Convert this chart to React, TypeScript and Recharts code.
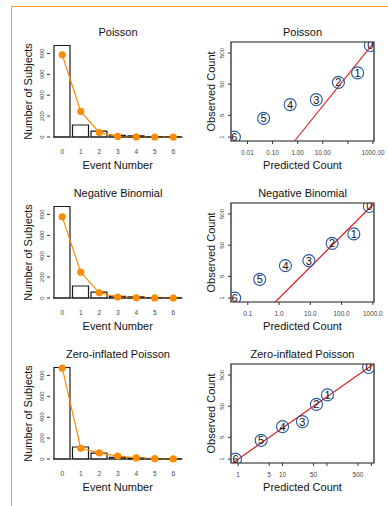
import React from 'react';
import {
  ComposedChart,
  Bar,
  Line,
  XAxis,
  YAxis,
  ScatterChart,
  Scatter,
  ReferenceLine,
  ReferenceArea,
  Label,
} from 'recharts';

const FONT = '"Liberation Sans", Arial, Helvetica, sans-serif';

// ---- data ----
const events = ['0', '1', '2', '3', '4', '5', '6'];
const observed = [876, 115, 57, 16, 11, 4, 1];
const predPoisson = [787, 245, 42, 5.5, 0.5, 0.044, 0.003];
const predNegBin = [777, 247, 50, 9, 1.6, 0.24, 0.038];
const predZip = [870, 103, 58, 28, 10, 3.3, 0.87];

const countTicks = [0, 200, 400, 600, 800];
const obsTicks = [1, 5, 50, 500];
const obsLabels = ['1', '5', '50', '500'];

const poissonXTicks = [0.01, 0.1, 1, 10, 100, 1000];
const poissonXLabels = ['0.01', '0.10', '1.00', '10.00', '', '1000.00'];
const negBinXTicks = [0.1, 1, 10, 100, 1000];
const negBinXLabels = ['0.1', '1.0', '10.0', '100.0', '1000.0'];
const zipXTicks = [1, 5, 10, 50, 100, 500, 1000];
const zipXLabels = ['1', '5', '10', '50', '', '500', ''];

const poissonXDomain = [0.0022, 1100];
const negBinXDomain = [0.029, 1090];
const zipXDomain = [0.69, 1150];
const obsDomain = [0.75, 1130];

const ORANGE = '#FF8C00';
const BLUE = '#2857a4';
const RED = '#e01c1c';
const INK = '#1a1a1a';

const titleStyle = (left: number, width: number, top: number): React.CSSProperties => ({
  position: 'absolute',
  left,
  width,
  top,
  textAlign: 'center',
  fontFamily: FONT,
  fontSize: 11,
  lineHeight: '13px',
  color: '#111',
});

function BarPanel({ top, title, predicted }: { top: number; title: string; predicted: number[] }) {
  const data = events.map((k, i) => ({ k, observed: observed[i], predicted: predicted[i] }));
  return (
    <div style={{ position: 'absolute', left: 0, top, width: 194, height: 170 }}>
      <div style={titleStyle(53, 130, 25.5)}>{title}</div>
      <ComposedChart
        width={194}
        height={170}
        data={data}
        margin={{ top: 43, right: 11.5, bottom: 0, left: 0 }}
      >
        <XAxis
          dataKey="k"
          height={33}
          interval={0}
          tickSize={0}
          tickMargin={0}
          tickLine={false}
          axisLine={{ stroke: INK, strokeWidth: 1.2 }}
          tick={(p: any) => (
            <text
              x={p.x}
              y={p.y + 14.7}
              dy="0.35em"
              textAnchor="middle"
              fontSize={6.5}
              fill="#444"
              fontFamily={FONT}
            >
              {p.payload.value}
            </text>
          )}
        >
          <Label
            content={(p: any) => {
              const vb = p.viewBox;
              return (
                <text
                  x={vb.x + vb.width / 2}
                  y={vb.y + 28}
                  dy="0.35em"
                  textAnchor="middle"
                  fontSize={11}
                  fill="#111"
                  fontFamily={FONT}
                >
                  Event Number
                </text>
              );
            }}
          />
        </XAxis>
        <YAxis
          width={53}
          type="number"
          domain={[0, 900]}
          ticks={countTicks}
          interval={0}
          tickSize={0}
          tickMargin={0}
          axisLine={false}
          tickLine={false}
          tick={(p: any) => (
            <g>
              <line x1={p.x - 6} x2={p.x - 3} y1={p.y} y2={p.y} stroke="#333" strokeWidth={1} />
              <text
                x={p.x - 11}
                y={p.y}
                dy="0.35em"
                textAnchor="middle"
                fontSize={6}
                fill="#444"
                fontFamily={FONT}
                transform={`rotate(-90, ${p.x - 11}, ${p.y})`}
              >
                {p.payload.value}
              </text>
            </g>
          )}
        >
          <Label
            content={(p: any) => {
              const vb = p.viewBox;
              const cx = vb.x + 28;
              const cy = vb.y + vb.height / 2 + 1.5;
              return (
                <text
                  x={cx}
                  y={cy}
                  dy="0.35em"
                  textAnchor="middle"
                  fontSize={11}
                  fill="#111"
                  fontFamily={FONT}
                  transform={`rotate(-90, ${cx}, ${cy})`}
                >
                  Number of Subjects
                </text>
              );
            }}
          />
        </YAxis>
        <Bar
          dataKey="observed"
          fill="#ffffff"
          stroke={INK}
          strokeWidth={1.2}
          barSize={16}
          isAnimationActive={false}
        />
        <Line
          dataKey="predicted"
          type="linear"
          stroke={ORANGE}
          strokeWidth={1.2}
          dot={{ r: 3.6, fill: ORANGE, stroke: ORANGE, strokeWidth: 0 }}
          activeDot={false}
          isAnimationActive={false}
        />
      </ComposedChart>
    </div>
  );
}

const CircleNum = (p: any) => (
  <g>
    <circle cx={p.cx} cy={p.cy} r={6} fill="none" stroke={BLUE} strokeWidth={1.1} />
    <text
      x={p.cx}
      y={p.cy}
      dy="0.36em"
      textAnchor="middle"
      fontSize={11}
      fill="#111"
      fontFamily={FONT}
    >
      {p.payload.k}
    </text>
  </g>
);

function ScatterPanel({
  top,
  title,
  predicted,
  xDomain,
  xTicks,
  xLabels,
}: {
  top: number;
  title: string;
  predicted: number[];
  xDomain: number[];
  xTicks: number[];
  xLabels: string[];
}) {
  const data = events.map((k, i) => ({ k, x: predicted[i], y: observed[i] }));
  const lo = Math.max(xDomain[0], obsDomain[0]);
  const hi = Math.min(xDomain[1], obsDomain[1]);
  return (
    <div style={{ position: 'absolute', left: 194, top, width: 194, height: 170 }}>
      <div style={titleStyle(37, 143, 25.5)}>{title}</div>
      <ScatterChart width={194} height={170} margin={{ top: 42, right: 14, bottom: 0, left: 0 }}>
        <XAxis
          type="number"
          dataKey="x"
          scale="log"
          domain={xDomain}
          allowDataOverflow
          ticks={xTicks}
          interval={0}
          height={29}
          tickSize={0}
          tickMargin={0}
          axisLine={false}
          tickLine={false}
          tick={(p: any) => (
            <g>
              <line x1={p.x} x2={p.x} y1={p.y} y2={p.y + 3} stroke="#333" strokeWidth={1} />
              <text
                x={p.x}
                y={p.y + 11.7}
                dy="0.35em"
                textAnchor="middle"
                fontSize={6.4}
                fill="#444"
                fontFamily={FONT}
              >
                {xLabels[p.index]}
              </text>
            </g>
          )}
        >
          <Label
            content={(p: any) => {
              const vb = p.viewBox;
              return (
                <text
                  x={vb.x + vb.width / 2}
                  y={vb.y + 24}
                  dy="0.35em"
                  textAnchor="middle"
                  fontSize={11}
                  fill="#111"
                  fontFamily={FONT}
                >
                  Predicted Count
                </text>
              );
            }}
          />
        </XAxis>
        <YAxis
          type="number"
          dataKey="y"
          scale="log"
          domain={obsDomain}
          allowDataOverflow
          ticks={obsTicks}
          interval={0}
          width={37}
          tickSize={0}
          tickMargin={0}
          axisLine={false}
          tickLine={false}
          tick={(p: any) => (
            <g>
              <line x1={p.x - 3} x2={p.x} y1={p.y} y2={p.y} stroke="#333" strokeWidth={1} />
              <text
                x={p.x - 9}
                y={p.y}
                dy="0.35em"
                textAnchor="middle"
                fontSize={6.2}
                fill="#444"
                fontFamily={FONT}
                transform={`rotate(-90, ${p.x - 9}, ${p.y})`}
              >
                {obsLabels[p.index]}
              </text>
            </g>
          )}
        >
          <Label
            content={(p: any) => {
              const vb = p.viewBox;
              const cx = vb.x + 16.7;
              const cy = vb.y + vb.height / 2;
              return (
                <text
                  x={cx}
                  y={cy}
                  dy="0.35em"
                  textAnchor="middle"
                  fontSize={11}
                  fill="#111"
                  fontFamily={FONT}
                  transform={`rotate(-90, ${cx}, ${cy})`}
                >
                  Observed Count
                </text>
              );
            }}
          />
        </YAxis>
        <ReferenceArea
          x1={xDomain[0]}
          x2={xDomain[1]}
          y1={obsDomain[0]}
          y2={obsDomain[1]}
          fill="none"
          fillOpacity={0}
          stroke={INK}
          strokeWidth={1.2}
          ifOverflow="visible"
        />
        <Scatter data={data} shape={CircleNum} isAnimationActive={false} />
        <ReferenceLine
          segment={[
            { x: lo, y: lo },
            { x: hi, y: hi },
          ]}
          stroke={RED}
          strokeWidth={1.1}
          ifOverflow="visible"
        />
      </ScatterChart>
    </div>
  );
}

export default function App() {
  return (
    <div
      style={{
        position: 'absolute',
        left: 0,
        top: 0,
        width: 388,
        height: 506,
        background: '#ffffff',
        overflow: 'hidden',
        fontFamily: FONT,
      }}
    >
      <div
        style={{
          position: 'absolute',
          left: 11,
          top: 6,
          width: 377,
          height: 500,
          borderTop: '1.5px solid #F8A130',
          borderLeft: '1.5px solid #F8A130',
          boxSizing: 'border-box',
        }}
      />
      <BarPanel top={0} title="Poisson" predicted={predPoisson} />
      <BarPanel top={161} title="Negative Binomial" predicted={predNegBin} />
      <BarPanel top={322} title="Zero-inflated Poisson" predicted={predZip} />
      <ScatterPanel
        top={0}
        title="Poisson"
        predicted={predPoisson}
        xDomain={poissonXDomain}
        xTicks={poissonXTicks}
        xLabels={poissonXLabels}
      />
      <ScatterPanel
        top={161}
        title="Negative Binomial"
        predicted={predNegBin}
        xDomain={negBinXDomain}
        xTicks={negBinXTicks}
        xLabels={negBinXLabels}
      />
      <ScatterPanel
        top={322}
        title="Zero-inflated Poisson"
        predicted={predZip}
        xDomain={zipXDomain}
        xTicks={zipXTicks}
        xLabels={zipXLabels}
      />
    </div>
  );
}
